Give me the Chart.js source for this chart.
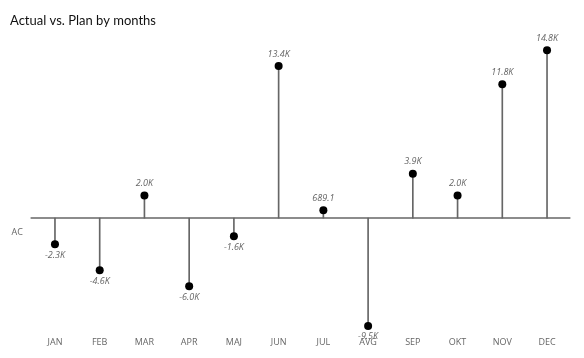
<!DOCTYPE html>
<html>
<head>
<meta charset="utf-8">
<script src="https://cdn.jsdelivr.net/npm/chart.js@4/dist/chart.umd.min.js"></script>
<style>
  html, body { margin: 0; padding: 0; background: #fff; }
  #wrap { width: 584px; height: 358px; }
</style>
</head>
<body>
<div id="wrap"><canvas id="chart"></canvas></div>
<script>
'use strict';

var months = ['JAN', 'FEB', 'MAR', 'APR', 'MAJ', 'JUN', 'JUL', 'AVG', 'SEP', 'OKT', 'NOV', 'DEC'];
var variance = [-2300, -4600, 2000, -6000, -1600, 13400, 689.1, -9500, 3900, 2000, 11800, 14800];
var seriesName = 'AC';
var chartTitle = 'Actual vs. Plan by months';

var FONT = '"Open Sans", "Noto Sans", sans-serif';

//
// Format a value the way the labels read: 13.4K, -9.5K, 689.1
//
function short(v) {
  if (Math.abs(v) >= 1000) return (v / 1000).toFixed(1) + 'K';
  return v.toFixed(1);
}

//
// Baseline at zero, the series name and the value labels.
//
var lollipop = {
  id: 'lollipop',
  beforeDatasetsDraw: function (chart) {
    var ctx = chart.ctx
      , area = chart.chartArea
      , zero = chart.scales.y.getPixelForValue(0);

    ctx.save();
    ctx.strokeStyle = '#8c8c8c';
    ctx.lineWidth = 2;
    ctx.beginPath();
    ctx.moveTo(area.left - 2, zero);
    ctx.lineTo(area.right + 1, zero);
    ctx.stroke();

    ctx.fillStyle = '#666';
    ctx.font = '9px ' + FONT;
    ctx.textAlign = 'center';
    ctx.textBaseline = 'middle';
    ctx.fillText(seriesName, area.left / 2 + 1, zero + 14);
    ctx.restore();
  },
  afterDatasetsDraw: function (chart) {
    var ctx = chart.ctx
      , meta = chart.getDatasetMeta(0);

    ctx.save();
    ctx.fillStyle = '#666';
    ctx.font = 'italic 9px ' + FONT;
    ctx.textAlign = 'center';
    ctx.textBaseline = 'middle';
    meta.data.forEach(function (pt, i) {
      var v = variance[i];
      ctx.fillText(short(v), pt.x, v >= 0 ? pt.y - 12 : pt.y + 11);
    });
    ctx.restore();
  }
};

new Chart(document.getElementById('chart'), {
  type: 'bar',
  data: {
    labels: months,
    datasets: [{
      type: 'line',
      data: variance,
      showLine: false,
      pointRadius: 4,
      pointHoverRadius: 4,
      pointBackgroundColor: '#000',
      pointBorderWidth: 0,
      order: 0
    }, {
      data: variance,
      backgroundColor: '#666',
      barThickness: 1,
      order: 1
    }]
  },
  options: {
    responsive: true,
    maintainAspectRatio: false,
    animation: false,
    layout: { padding: { left: 10, right: 14.6, top: 4.2, bottom: 5.6 } },
    plugins: {
      legend: { display: false },
      tooltip: { enabled: false },
      title: {
        display: true,
        text: chartTitle,
        align: 'start',
        color: '#111',
        font: { family: 'Lato, ' + FONT, size: 13, weight: 'normal', lineHeight: 1.3 },
        padding: { top: 8, bottom: 12 }
      }
    },
    scales: {
      x: {
        offset: true,
        grid: { display: false, drawTicks: false },
        border: { display: false },
        ticks: {
          color: '#666',
          padding: 5,
          maxRotation: 0,
          font: { family: FONT, size: 9 }
        }
      },
      y: {
        min: -10000,
        max: 15600,
        grid: { display: false, drawTicks: false },
        border: { display: false },
        ticks: { display: false },
        afterFit: function (scale) { scale.width = 22.6; }
      }
    }
  },
  plugins: [lollipop]
});
</script>
</body>
</html>
